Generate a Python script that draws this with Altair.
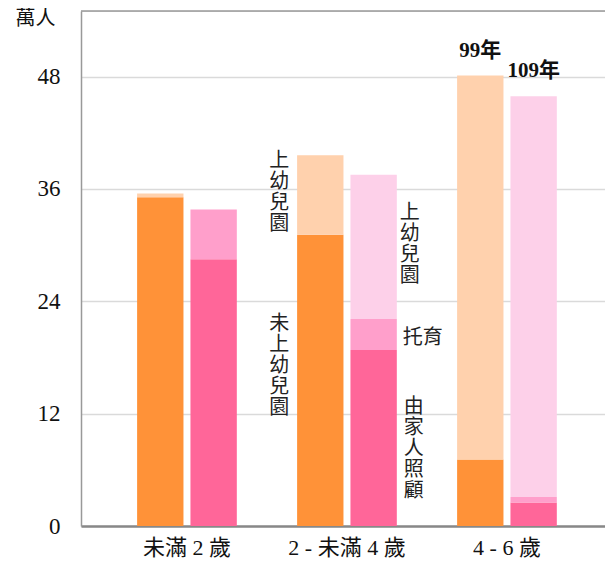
import altair as alt
import pandas as pd

groups = ["未滿 2 歲", "2 - 未滿 4 歲", "4 - 6 歲"]
years = ["99年", "109年"]

# 萬人
v99_home = [35.1, 31.1, 7.1]     # 未上幼兒園
v99_kg = [0.4, 8.5, 41.0]        # 上幼兒園
v109_home = [28.5, 18.8, 2.5]    # 由家人照顧
v109_care = [5.3, 3.3, 0.6]      # 托育
v109_kg = [0.0, 15.4, 42.8]      # 上幼兒園

keys = ["99_home", "99_kg", "109_home", "109_care", "109_kg"]
colors = ["#FF9238", "#FFD1AD", "#FF6699", "#FF9FCB", "#FDD0E9"]

rows = []
for i, g in enumerate(groups):
    rows.append(dict(group=g, year="99年", key="99_home", ord=0, value=v99_home[i]))
    rows.append(dict(group=g, year="99年", key="99_kg", ord=2, value=v99_kg[i]))
    rows.append(dict(group=g, year="109年", key="109_home", ord=0, value=v109_home[i]))
    rows.append(dict(group=g, year="109年", key="109_care", ord=1, value=v109_care[i]))
    rows.append(dict(group=g, year="109年", key="109_kg", ord=2, value=v109_kg[i]))
df = pd.DataFrame(rows)

FONT = "Liberation Serif, Noto Sans CJK TC"
YMAX = 55

xscale = alt.Scale(paddingInner=0, paddingOuter=0.1375, align=0.59)
xs = alt.X("group:N", sort=groups, scale=xscale,
           axis=alt.Axis(title=None, labelAngle=0, labelFontSize=22, labelFont=FONT,
                         labelColor="#111", labelPadding=11, ticks=False,
                         domainColor="#888888", domainWidth=2.5))
xo = alt.XOffset("year:N", sort=years, scale=alt.Scale(paddingInner=0.131, paddingOuter=0.565))
yscale = alt.Scale(domain=[0, YMAX], nice=False)

bars = alt.Chart(df).mark_bar().encode(
    x=xs,
    xOffset=xo,
    y=alt.Y("value:Q", stack="zero", scale=yscale,
            axis=alt.Axis(title="萬人", titleAngle=0, titleFont=FONT, titleFontSize=20,
                          titleFontWeight="normal", titleColor="#111", titleAlign="right",
                          titleBaseline="middle", titleX=-26, titleY=7,
                          values=[0, 12, 24, 36, 48], labelFontSize=23, labelFont=FONT,
                          labelColor="#111", labelPadding=21, ticks=False,
                          domainColor="#999999", domainWidth=1.5,
                          grid=True, gridColor="#DADADA", gridWidth=1.5)),
    color=alt.Color("key:N", scale=alt.Scale(domain=keys, range=colors), legend=None),
    order=alt.Order("ord:Q"),
)

top_line = alt.Chart(pd.DataFrame({"v": [YMAX]})).mark_rule(color="#999999", strokeWidth=1.5).encode(
    y=alt.Y("v:Q", scale=yscale))

# annotations
ann_text = ["上\n幼\n兒\n園", "未\n上\n幼\n兒\n園", "上\n幼\n兒\n園", "托育", "由\n家\n人\n照\n顧"]
ann_year = ["99年", "99年", "109年", "109年", "109年"]
ann_y = [40.0, 22.6, 34.5, 20.1, 13.8]
ann_dx = [-41, -41, 36, 29, 40]
ann_align = ["center", "center", "center", "left", "center"]
ann_base = ["top", "top", "top", "middle", "top"]

layers = [bars, top_line]
for t, yr, yv, dx, al, bl in zip(ann_text, ann_year, ann_y, ann_dx, ann_align, ann_base):
    d = pd.DataFrame([dict(group=groups[1], year=yr, value=yv, label=t)])
    layers.append(
        alt.Chart(d).mark_text(font=FONT, fontSize=20, color="#222", align=al, baseline=bl,
                               dx=dx, lineBreak="\n", lineHeight=21).encode(
            x=alt.X("group:N", sort=groups), xOffset=alt.XOffset("year:N", sort=years),
            y=alt.Y("value:Q", scale=yscale), text="label:N")
    )

tot = pd.DataFrame([
    dict(group=groups[2], year="99年", value=v99_home[2] + v99_kg[2], label="99年"),
    dict(group=groups[2], year="109年", value=v109_home[2] + v109_care[2] + v109_kg[2], label="109年"),
])
layers.append(
    alt.Chart(tot).mark_text(font=FONT, fontSize=21, fontWeight="bold", color="#111",
                             baseline="alphabetic", dy=-19).encode(
        x=alt.X("group:N", sort=groups), xOffset=alt.XOffset("year:N", sort=years),
        y=alt.Y("value:Q", scale=yscale), text="label:N")
)

chart = alt.layer(*layers).properties(
    width=524, height=515,
    autosize=alt.AutoSizeParams(type="none"),
    padding={"left": 73, "top": 3, "right": 0, "bottom": 34},
).configure_view(stroke=None).configure(background="white")

chart.save("out.html", embed_options={"renderer": "svg", "actions": False})
